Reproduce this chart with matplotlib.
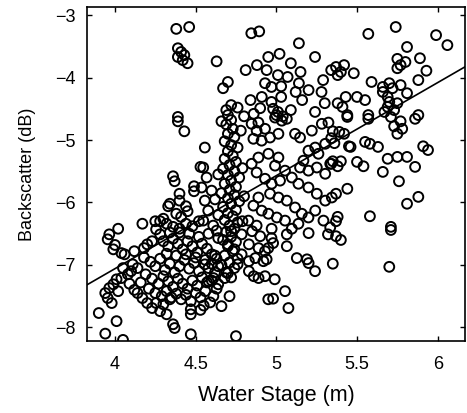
import matplotlib
matplotlib.use("Agg")
import matplotlib.pyplot as plt
import numpy as np

plt.rcParams['font.family'] = ['Liberation Sans', 'DejaVu Sans']
plt.rcParams['axes.unicode_minus'] = True

# (water stage, backscatter) pairs
pts_top_left = [(4.38,-3.22),(4.46,-3.19),(4.39,-3.53),(4.41,-3.59),(4.43,-3.64),(4.39,-3.67),
    (4.42,-3.72),(4.45,-3.77),(4.39,-4.63),(4.39,-4.70),(4.43,-4.86)]
pts_left_mid = [(4.53,-5.43),(4.36,-5.58),(4.37,-5.66),(4.49,-5.74),(4.49,-5.82),(4.40,-5.86),
    (4.40,-5.97),(4.34,-6.02),(4.45,-6.14),(4.28,-6.30),(4.17,-6.34),(4.02,-6.42),
    (4.25,-6.30),(4.30,-6.26),(4.32,-6.34),(4.36,-6.39),(4.40,-6.42),(4.44,-6.34),(4.48,-6.38),
    (4.52,-6.30),(4.38,-6.18),(4.41,-6.23),(4.44,-6.06),(4.33,-6.06),
    (4.557,-5.12),(4.547,-5.44),(4.568,-5.60),(4.537,-5.76),(4.599,-5.81),(4.557,-5.97),
    (4.578,-6.13),(4.547,-6.29),(4.609,-6.37)]
pts_low_left = [(3.90,-7.77),(4.01,-7.90),(3.94,-8.10),(4.05,-8.20),(3.94,-7.45),(3.955,-7.53),
    (3.965,-7.37),(3.99,-7.31),(3.98,-7.61),(4.02,-7.42),(4.01,-7.23),(4.04,-7.21),
    (3.965,-6.51),(3.955,-6.59),(4.00,-6.68),(3.99,-6.75),(4.04,-6.81),(4.06,-6.83),
    (4.12,-6.78),(4.18,-6.73),(4.20,-6.67),(4.23,-6.62),(4.28,-6.51),(4.255,-6.43),
    (4.10,-7.10),(4.05,-7.05),(4.08,-7.15),(4.11,-6.99),(4.14,-7.45),(4.17,-7.53),
    (4.20,-7.61),(4.23,-7.69),(4.28,-7.74),(4.32,-7.79),(4.255,-7.61),(4.30,-7.63),
    (4.34,-7.55),(4.36,-7.95),(4.37,-8.01),(4.47,-8.11),(4.47,-7.71),(4.47,-7.79),
    (4.22,-6.95),(4.25,-7.02),(4.28,-6.90),(4.31,-7.08),(4.34,-6.98),(4.37,-7.12),(4.40,-7.02),
    (4.43,-6.92),(4.46,-7.06),(4.49,-6.97),(4.52,-7.10),(4.19,-7.15),(4.23,-7.22),(4.27,-7.30),
    (4.30,-7.18),(4.33,-7.26),(4.36,-7.35),(4.39,-7.22),(4.42,-7.30),(4.45,-7.38),(4.48,-7.25),
    (4.51,-7.33),(4.54,-7.20),(4.21,-7.38),(4.25,-7.45),(4.29,-7.50),(4.32,-7.42),(4.35,-7.52),
    (4.38,-7.46),(4.41,-7.55),(4.44,-7.48),(4.47,-7.58),(4.50,-7.45),(4.53,-7.52),
    (4.30,-6.62),(4.33,-6.70),(4.36,-6.58),(4.39,-6.66),(4.42,-6.75),(4.45,-6.62),(4.48,-6.70),
    (4.51,-6.80),(4.54,-6.66),(4.57,-6.74),(4.32,-6.82),(4.38,-6.85),(4.44,-6.83),(4.50,-6.88),
    (4.56,-6.92),(4.58,-7.05),(4.57,-7.28),(4.56,-7.42),(4.14,-7.05),(4.16,-7.28),(4.18,-6.88),
    (4.09,-7.30),(4.12,-7.40),(4.40,-6.48),(4.46,-6.50),(4.52,-6.55),(4.58,-6.50),(4.34,-6.48),
    (4.60,-6.98),(4.62,-7.12),(4.60,-7.25),(4.63,-7.38),(4.61,-7.50),(4.64,-7.02),(4.59,-7.60),
    (4.62,-6.85),(4.55,-7.65),(4.53,-7.72)]
pts_low_mid = [(5.065,-6.51),(5.20,-6.49),(5.32,-6.51),(5.065,-6.70),(5.127,-6.89),(5.19,-6.91),
    (5.24,-7.10),(5.20,-6.97),(4.99,-7.23),(4.93,-7.18),(5.054,-7.42),(4.95,-7.55),(4.98,-7.54),
    (5.075,-7.69),(4.66,-7.66),(4.71,-7.50),(4.75,-8.14),(4.86,-7.18),(4.89,-7.21),(4.76,-6.99),
    (4.83,-7.10),(4.92,-6.94),(4.94,-6.91),(4.97,-6.57),(4.98,-6.65),(4.93,-6.78),(4.95,-6.73),
    (4.785,-6.83),(4.83,-6.94),(4.87,-6.89),(4.70,-7.13),(4.68,-7.21),(4.61,-7.21),(4.64,-7.31),
    (4.58,-7.26),(4.72,-6.46),(4.785,-6.51),(4.85,-6.46),(4.90,-6.54),(4.64,-6.57),(4.70,-6.67),
    (4.83,-6.67),(4.89,-6.73),(4.74,-6.75),(4.60,-6.83),(4.557,-6.99)]
pts_column = [(4.70,-4.60),(4.72,-4.68),(4.69,-4.75),(4.73,-4.82),(4.70,-4.90),(4.74,-4.95),
    (4.68,-5.02),(4.72,-5.08),(4.76,-5.12),(4.70,-5.18),(4.73,-5.25),(4.68,-5.30),(4.75,-5.35),
    (4.71,-5.40),(4.67,-5.46),(4.74,-5.50),(4.70,-5.56),(4.77,-5.60),(4.72,-5.65),(4.68,-5.70),
    (4.75,-5.75),(4.71,-5.80),(4.66,-5.85),(4.74,-5.88),(4.70,-5.93),(4.77,-5.98),(4.72,-6.02),
    (4.67,-6.07),(4.75,-6.12),(4.70,-6.17),(4.73,-6.22),(4.68,-6.28),(4.76,-6.32),(4.71,-6.37),
    (4.74,-6.42),(4.69,-6.47),(4.72,-6.55),(4.67,-6.60),(4.75,-6.63),(4.70,-6.70),(4.73,-6.78),
    (4.68,-6.85),(4.76,-6.90),(4.71,-6.96),(4.74,-7.05),(4.69,-7.12),(4.72,-7.20),(4.66,-7.00),
    (4.79,-5.45),(4.80,-5.90),(4.79,-6.30),(4.64,-5.55),(4.64,-6.20),(4.63,-6.90),(4.78,-4.85),
    (4.66,-4.70),(4.62,-5.95),(4.63,-6.45)]
pts_mid = [(4.847,-4.74),(4.889,-4.72),(4.878,-4.85),(4.93,-4.82),(4.858,-4.98),(4.909,-5.01),
    (4.961,-4.96),(5.013,-4.90),(5.034,-4.69),(4.992,-4.64),(5.065,-4.66),(5.116,-4.90),
    (5.147,-4.96),(5.22,-4.85),(5.241,-5.12),(5.282,-4.74),(5.323,-4.72),(5.303,-5.06),
    (5.261,-5.22),(5.199,-5.17),(5.168,-5.33),(5.147,-5.44),(5.199,-5.49),(5.251,-5.44),
    (5.303,-5.54),(5.334,-5.38),(5.344,-5.92),(5.303,-5.97),(5.251,-5.86),(5.199,-5.76),
    (5.137,-5.70),(5.096,-5.60),(5.054,-5.49),(4.992,-5.41),(5.013,-5.28),(4.951,-5.22),
    (4.889,-5.28),(4.847,-5.38),(4.878,-5.52),(4.93,-5.62),(4.971,-5.70),(5.023,-5.65),
    (4.961,-5.86),(5.013,-5.92),(5.065,-5.97),(5.116,-6.08),(5.158,-6.18),(4.889,-5.92),
    (4.858,-6.05),(4.909,-6.13),(4.951,-6.18),(5.003,-6.24),(5.054,-6.29),(5.137,-6.34),
    (5.199,-6.24),(5.241,-6.13),(5.292,-6.29),(5.334,-6.40),(4.827,-6.29),(4.878,-6.37),
    (4.971,-6.42),(5.096,-6.42)]
pts_top_mid = [(4.845,-3.29),(4.894,-3.26),(5.14,-3.45),(4.63,-3.74),(5.24,-3.67),(5.02,-3.62),
    (4.95,-3.67),(4.88,-3.80),(4.81,-3.88),(4.94,-3.88),(5.09,-3.77),(5.15,-3.91),(5.01,-3.96),
    (5.07,-3.99),(5.29,-4.04),(5.34,-3.88),(4.70,-4.07),(4.67,-4.17),(4.93,-4.09),(4.97,-4.15),
    (5.03,-4.14),(5.14,-4.09),(5.20,-4.20),(5.28,-4.23),(5.12,-4.23),(5.16,-4.36),(4.84,-4.36),
    (4.91,-4.31),(4.97,-4.39),(5.03,-4.31),(4.72,-4.44),(4.69,-4.52),(4.90,-4.49),(5.01,-4.55),
    (5.09,-4.52),(5.24,-4.55),(5.30,-4.41),(5.00,-4.60),(5.04,-4.62),(4.98,-4.50),(4.86,-4.58),
    (4.80,-4.62),(4.76,-4.48)]
pts_right = [(5.57,-3.30),(5.74,-3.19),(5.99,-3.32),(6.06,-3.48),(5.81,-3.51),(5.75,-3.70),
    (5.77,-3.80),(5.80,-3.75),(5.75,-3.85),(5.89,-3.69),(5.93,-3.89),(5.88,-4.04),(5.37,-3.83),
    (5.40,-3.91),(5.42,-3.80),(5.48,-3.93),(5.38,-3.96),(5.59,-4.07),(5.66,-4.15),(5.70,-4.09),
    (5.72,-4.17),(5.66,-4.23),(5.69,-4.31),(5.70,-4.39),(5.69,-4.47),(5.67,-4.55),(5.73,-4.52),
    (5.75,-4.41),(5.77,-4.12),(5.81,-4.25),(5.43,-4.31),(5.50,-4.31),(5.55,-4.36),(5.38,-4.41),
    (5.41,-4.47),(5.57,-4.60),(5.88,-4.60),(5.44,-4.60),(5.44,-4.63),(5.57,-4.66),(5.71,-4.63),
    (5.77,-4.70),(5.73,-4.78),(5.78,-4.82),(5.75,-4.90),(5.86,-4.66),(5.35,-4.86),(5.39,-4.87),
    (5.42,-4.90),(5.45,-5.10),(5.46,-5.11),(5.55,-5.03),(5.58,-5.06),(5.63,-5.11),(5.50,-5.35),
    (5.54,-5.42),(5.35,-5.34),(5.40,-5.34),(5.38,-5.42),(5.34,-5.38),(5.66,-5.51),(5.69,-5.30),
    (5.75,-5.27),(5.81,-5.27),(5.86,-5.43),(5.76,-5.66),(5.91,-5.10),(5.94,-5.16),(5.44,-5.78),
    (5.37,-5.86),(5.81,-6.02),(5.88,-5.91),(5.58,-6.22),(5.37,-6.30),(5.38,-6.23),(5.71,-6.39),
    (5.71,-6.44),(5.37,-6.54),(5.40,-6.60),(5.35,-6.98),(5.70,-7.03),(5.34,-4.97),(5.36,-5.05)]

groups = [pts_top_left, pts_left_mid, pts_low_left, pts_low_mid, pts_column, pts_mid, pts_top_mid, pts_right]
stage = np.array([p[0] for g in groups for p in g])
backscatter = np.array([p[1] for g in groups for p in g])

fit_slope = 1.49
fit_intercept = -13.02

x_ticks = [4, 4.5, 5, 5.5, 6]
y_ticks = [-8, -7, -6, -5, -4, -3]

fig = plt.figure(figsize=(4.67, 4.13), dpi=100)
ax = fig.add_axes([0.186, 0.174, 0.81, 0.809])
ax.scatter(stage, backscatter, s=50, facecolors='none', edgecolors='black', linewidths=1.4, zorder=2)
xl = np.array([3.826, 6.17])
ax.plot(xl, fit_slope * xl + fit_intercept, color='black', linewidth=1.2, zorder=3)
ax.set_xlim(3.826, 6.17)
ax.set_ylim(-8.22, -2.87)
ax.set_xticks(x_ticks)
ax.set_xticklabels(['4', '4.5', '5', '5.5', '6'])
ax.set_yticks(y_ticks)
ax.tick_params(direction='in', top=True, right=True, length=3.5, width=1, labelsize=13)
ax.tick_params(axis='x', pad=11)
ax.tick_params(axis='y', pad=8)
for s in ax.spines.values():
    s.set_linewidth(1.2)
ax.set_xlabel('Water Stage (m)', fontsize=15.5, labelpad=8)
ax.set_ylabel('Backscatter (dB)', fontsize=13, labelpad=14)
fig.savefig('out.png', dpi=100)
